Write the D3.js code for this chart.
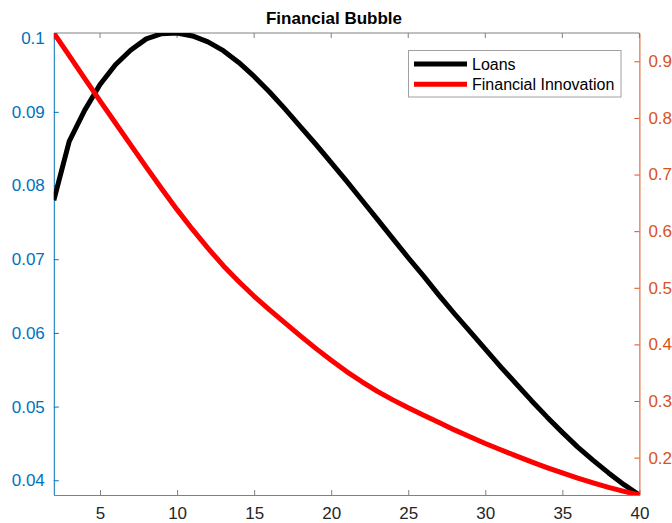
<!DOCTYPE html>
<html>
<head>
<meta charset="utf-8">
<script src="https://cdn.jsdelivr.net/npm/d3@7"></script>
<style>
  body { margin: 0; background: #fff; }
  text { font-family: "Liberation Sans", Arial, sans-serif; }
</style>
</head>
<body>
<div id="chart"></div>
<script>
// periods 2..40
var periods = d3.range(2, 41);

// Loans (left axis)
var loans = [0.0780, 0.0860, 0.0902, 0.0937, 0.0964, 0.0984, 0.0999, 0.1006, 0.1007, 0.1003,
             0.0995, 0.0983, 0.0967, 0.0948, 0.0927, 0.0904, 0.0880, 0.0856, 0.0831, 0.0806,
             0.0780, 0.0754, 0.0728, 0.0702, 0.0677, 0.0651, 0.0626, 0.0602, 0.0578, 0.0554,
             0.0531, 0.0508, 0.0486, 0.0465, 0.0445, 0.0427, 0.0410, 0.0394, 0.0380];

// Financial innovation (right axis)
var innovation = [0.950, 0.910, 0.870, 0.830, 0.791, 0.752, 0.713, 0.675, 0.638, 0.603,
                  0.570, 0.539, 0.511, 0.485, 0.461, 0.438, 0.415, 0.393, 0.372, 0.352,
                  0.334, 0.317, 0.302, 0.288, 0.275, 0.262, 0.249, 0.237, 0.225, 0.214,
                  0.203, 0.1925, 0.1825, 0.173, 0.164, 0.1555, 0.1475, 0.1405, 0.134];

var xTicks = [5, 10, 15, 20, 25, 30, 35, 40];
var leftTicks = [0.04, 0.05, 0.06, 0.07, 0.08, 0.09, 0.1];
var rightTicks = [0.2, 0.3, 0.4, 0.5, 0.6, 0.7, 0.8, 0.9];
var seriesNames = ['Loans', 'Financial Innovation'];
var seriesColors = ['#000000', '#ff0000'];

var W = 672, H = 523;
var margin = {top: 33, right: 32.6, bottom: 28, left: 53.8};
var width = W - margin.left - margin.right,
    height = H - margin.top - margin.bottom;

var blue = '#0072BD', orange = '#D95319', gray = '#808080';

var svg = d3.select('#chart').append('svg')
  .attr('width', W).attr('height', H);

var g = svg.append('g').attr('transform', 'translate(' + margin.left + ',' + margin.top + ')');

var x = d3.scaleLinear().domain([2, 40]).range([0, width]);
var yL = d3.scaleLinear().domain(d3.extent(loans)).range([height, 0]);
var yR = d3.scaleLinear().domain(d3.extent(innovation)).range([height, 0]);

g.append('clipPath').attr('id', 'clip')
  .append('rect').attr('width', width).attr('height', height);

// box top
g.append('line').attr('x1', 0).attr('x2', width).attr('y1', 0).attr('y2', 0)
  .attr('stroke', gray).attr('stroke-width', 1);

// bottom axis
var xAxis = g.append('g').attr('transform', 'translate(0,' + height + ')')
  .call(d3.axisBottom(x).tickValues(xTicks).tickSizeInner(-5).tickSizeOuter(0).tickPadding(12));
xAxis.select('.domain').attr('stroke', gray);
xAxis.selectAll('.tick line').attr('stroke', gray);
xAxis.selectAll('text').attr('fill', '#262626').style('font-size', '17px');

// top ticks
g.selectAll('.toptick').data(xTicks).enter().append('line')
  .attr('x1', function(d) { return x(d); }).attr('x2', function(d) { return x(d); })
  .attr('y1', 0).attr('y2', 5).attr('stroke', gray);

// left axis
var lAxis = g.append('g')
  .call(d3.axisLeft(yL).tickValues(leftTicks).tickFormat(d3.format('')).tickSizeInner(-5).tickSizeOuter(0).tickPadding(9));
lAxis.select('.domain').attr('stroke', blue);
lAxis.selectAll('.tick line').attr('stroke', blue);
lAxis.selectAll('text').attr('fill', blue).style('font-size', '17px');

// right axis
var rAxis = g.append('g').attr('transform', 'translate(' + width + ',0)')
  .call(d3.axisRight(yR).tickValues(rightTicks).tickFormat(d3.format('')).tickSizeInner(-5).tickSizeOuter(0).tickPadding(9));
rAxis.select('.domain').attr('stroke', orange);
rAxis.selectAll('.tick line').attr('stroke', orange);
rAxis.selectAll('text').attr('fill', orange).style('font-size', '17px');

// lines
var lineL = d3.line().x(function(d, i) { return x(periods[i]); }).y(function(d) { return yL(d); });
var lineR = d3.line().x(function(d, i) { return x(periods[i]); }).y(function(d) { return yR(d); });

var plot = g.append('g').attr('clip-path', 'url(#clip)');
plot.append('path').datum(loans).attr('d', lineL)
  .attr('fill', 'none').attr('stroke', seriesColors[0]).attr('stroke-width', 5).attr('stroke-linejoin', 'round');
plot.append('path').datum(innovation).attr('d', lineR)
  .attr('fill', 'none').attr('stroke', seriesColors[1]).attr('stroke-width', 5).attr('stroke-linejoin', 'round');

// title
svg.append('text').attr('x', 334).attr('y', 24).attr('text-anchor', 'middle')
  .style('font-size', '17px').style('font-weight', 'bold').attr('fill', '#000')
  .text('Financial Bubble');

// legend
var leg = svg.append('g').attr('transform', 'translate(408.5,50.5)');
leg.append('rect').attr('width', 212.5).attr('height', 46.5)
  .attr('fill', '#fff').attr('stroke', '#a0a0a0').attr('stroke-width', 1);
seriesNames.forEach(function(name, i) {
  var yy = 13.5 + i * 20.3;
  leg.append('line').attr('x1', 5.5).attr('x2', 58.5).attr('y1', yy).attr('y2', yy)
    .attr('stroke', seriesColors[i]).attr('stroke-width', 5);
  leg.append('text').attr('x', 63.5).attr('y', yy + 5.5)
    .style('font-size', '16px').attr('fill', '#000').text(name);
});
</script>
</body>
</html>
